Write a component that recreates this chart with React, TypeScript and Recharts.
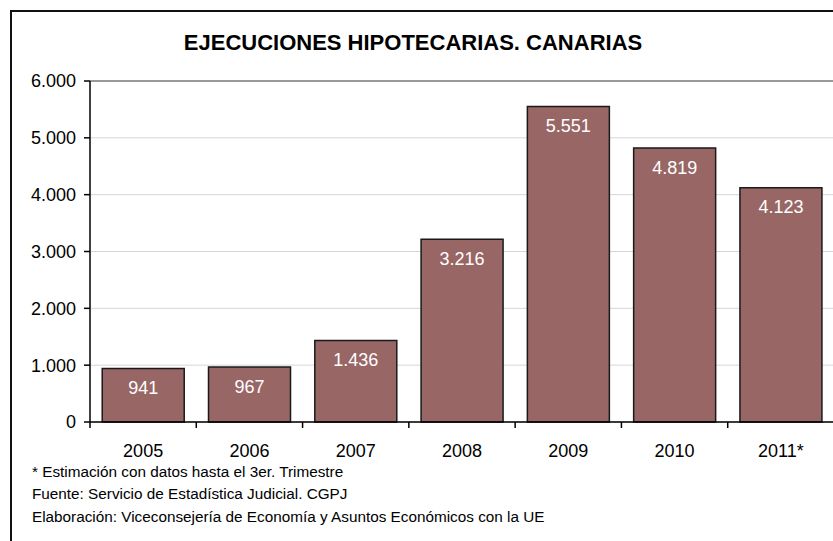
import { Bar, BarChart, CartesianGrid, LabelList, ReferenceLine, XAxis, YAxis } from "recharts";

const years = ["2005", "2006", "2007", "2008", "2009", "2010", "2011*"];
const ejecuciones = [941, 967, 1436, 3216, 5551, 4819, 4123];
const yTicks = [0, 1000, 2000, 3000, 4000, 5000, 6000];
const notes = [
  "* Estimación con datos hasta el 3er. Trimestre",
  "Fuente: Servicio de Estadística Judicial. CGPJ",
  "Elaboración: Viceconsejería de Economía y Asuntos Económicos con la UE"
];

const data = years.map((year, i) => ({ year, value: ejecuciones[i] }));

const font = "'Liberation Sans', Arial, sans-serif";

const fmt = (v: number) => String(v).replace(/\B(?=(\d{3})+(?!\d))/g, ".");

const CategoryTick = (props: any) => {
  const { x, y, payload, index, visibleTicksCount } = props;
  const half = payload.offset ?? 0;
  return (
    <g>
      <line x1={x - half} x2={x - half} y1={y} y2={y + 6} stroke="#000" strokeWidth={1.5} />
      {index === visibleTicksCount - 1 && (
        <line x1={x + half} x2={x + half} y1={y} y2={y + 6} stroke="#000" strokeWidth={1.5} />
      )}
      <text x={x} y={y + 35} textAnchor="middle" fontSize={18} fill="#000" fontFamily={font}>
        {payload.value}
      </text>
    </g>
  );
};

export default function App() {
  return (
    <div
      style={{
        position: "absolute",
        left: 0,
        top: 0,
        width: 833,
        height: 541,
        overflow: "hidden",
        background: "#fff",
        fontFamily: font
      }}
    >
      <div
        style={{
          position: "absolute",
          left: 10,
          top: 10,
          width: 900,
          height: 600,
          borderTop: "2px solid #111",
          borderLeft: "2px solid #111"
        }}
      />
      <div
        style={{
          position: "absolute",
          left: 113,
          width: 600,
          top: 30,
          textAlign: "center",
          fontSize: 22,
          fontWeight: "bold",
          lineHeight: "26px"
        }}
      >
        EJECUCIONES HIPOTECARIAS. CANARIAS
      </div>
      <div style={{ position: "absolute", left: 0, top: 0 }}>
        <BarChart
          width={836}
          height={541}
          data={data}
          margin={{ top: 81, right: 2, bottom: 79, left: 0 }}
          barCategoryGap="11.5%"
        >
          <CartesianGrid vertical={false} stroke="#d6d6d6" />
          <ReferenceLine y={6000} stroke="#999" strokeWidth={2} />
          <XAxis
            dataKey="year"
            height={40}
            axisLine={{ stroke: "#000", strokeWidth: 1.5 }}
            tickLine={false}
            tickSize={0}
            tickMargin={0}
            interval={0}
            tick={<CategoryTick />}
          />
          <YAxis
            width={90}
            domain={[0, 6000]}
            ticks={yTicks}
            tickFormatter={fmt}
            axisLine={{ stroke: "#000", strokeWidth: 1.5 }}
            tickLine={{ stroke: "#000", strokeWidth: 1.5 }}
            tickSize={6}
            tickMargin={8}
            tick={{ fontSize: 18, fill: "#000", fontFamily: font }}
          />
          <Bar dataKey="value" fill="#996666" stroke="#1a1a1a" strokeWidth={1.5} isAnimationActive={false}>
            <LabelList
              dataKey="value"
              position="insideTop"
              offset={13}
              formatter={(v: any) => fmt(Number(v))}
              style={{ fontSize: 18, fill: "#fff", fontFamily: font }}
            />
          </Bar>
        </BarChart>
      </div>
      {notes.map((n, i) => (
        <div
          key={n}
          style={{
            position: "absolute",
            left: 32,
            top: 463.5 + i * 22.6,
            fontSize: 15.3,
            lineHeight: "16px",
            color: "#000",
            whiteSpace: "nowrap"
          }}
        >
          {n}
        </div>
      ))}
    </div>
  );
}
